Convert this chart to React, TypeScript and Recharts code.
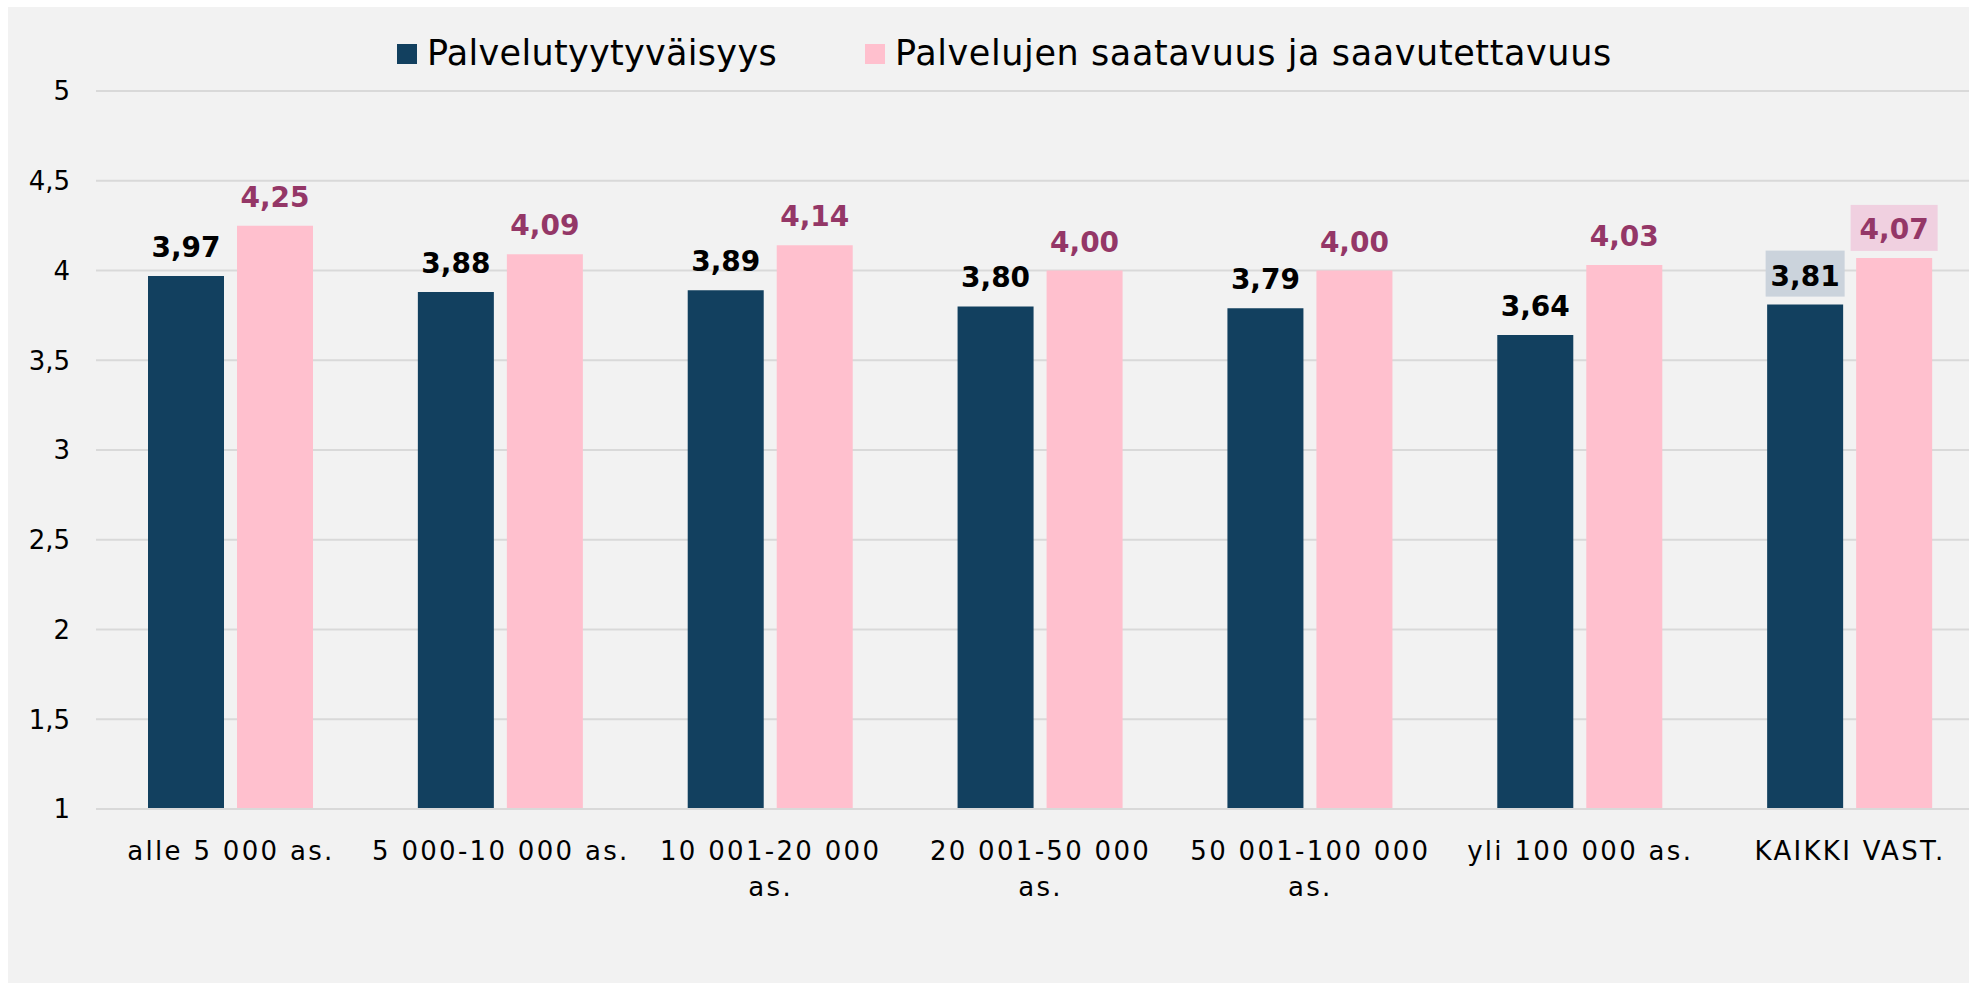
import React from "react";
import { BarChart, Bar, XAxis, YAxis, CartesianGrid, Legend, LabelList } from "recharts";

const categories = [
  "alle 5 000 as.",
  "5 000-10 000 as.",
  "10 001-20 000 as.",
  "20 001-50 000 as.",
  "50 001-100 000 as.",
  "yli 100 000 as.",
  "KAIKKI VAST.",
];
const satisfaction = [3.97, 3.88, 3.89, 3.8, 3.79, 3.64, 3.81];
const availability = [4.25, 4.09, 4.14, 4.0, 4.0, 4.03, 4.07];
const yTicks = [1, 1.5, 2, 2.5, 3, 3.5, 4, 4.5, 5];
const seriesNames = ["Palvelutyytyväisyys", "Palvelujen saatavuus ja saavutettavuus"];

const data = categories.map((c, i) => ({ name: c, s: satisfaction[i], a: availability[i] }));

const FONT = "'DejaVu Sans', 'Noto Sans', sans-serif";
const DARK = "#12405F";
const PINK = "#FFC0CE";
const PINK_TEXT = "#943767";
const GRID = "#D9D9D9";

const fmt = (v: number) => v.toFixed(2).replace(".", ",");

function wrapLabel(label: string): string[] {
  if (label.length > 16) {
    const k = label.lastIndexOf(" ");
    return [label.slice(0, k), label.slice(k + 1)];
  }
  return [label];
}

function XTick(props: any) {
  const { x, y, payload } = props;
  const lines = wrapLabel(String(payload.value));
  return (
    <text x={x} y={y} textAnchor="middle" fontFamily={FONT} fontSize={26} letterSpacing={2.3} fill="#000">
      {lines.map((l, i) => (
        <tspan key={i} x={x} dy={i === 0 ? 51 : 36}>
          {l}
        </tspan>
      ))}
    </text>
  );
}

function YTick(props: any) {
  const { x, y, payload } = props;
  return (
    <text x={x} y={y} dy="0.36em" textAnchor="end" fontFamily={FONT} fontSize={26} fill="#000">
      {String(payload.value).replace(".", ",")}
    </text>
  );
}

const makeLabel = (color: string, boxColor: string, boxW: number, boxTop: number) => (props: any) => {
  const vb = props.viewBox || {};
  const x = props.x ?? vb.x;
  const y = props.y ?? vb.y;
  const w = props.width ?? vb.width;
  const cx = x + w / 2;
  const isLast = props.index === categories.length - 1;
  return (
    <g>
      {isLast && <rect x={cx - boxW / 2} y={y - boxTop} width={boxW} height={46} fill={boxColor} />}
      <text x={cx} y={y - 19} textAnchor="middle" fontFamily={FONT} fontWeight="bold" fontSize={28} fill={color}>
        {fmt(Number(props.value))}
      </text>
    </g>
  );
};

const legendX = [
  [389, 419, 0.3],
  [857, 887, 0.6],
];

function LegendContent(props: any) {
  const payload = [...(props.payload || [])].sort(
    (a: any, b: any) => seriesNames.indexOf(a.value) - seriesNames.indexOf(b.value)
  );
  return (
    <svg width={1961} height={84} style={{ display: "block" }}>
      {payload.map((e: any, i: number) => (
        <g key={i}>
          <rect x={legendX[i][0]} y={37} width={20} height={20} fill={e.color} />
          <text x={legendX[i][1]} y={58} fontFamily={FONT} fontSize={35} letterSpacing={legendX[i][2]} fill="#000">
            {e.value}
          </text>
        </g>
      ))}
    </svg>
  );
}

export default function App() {
  return (
    <div
      style={{
        position: "absolute",
        left: 8,
        top: 7,
        width: 1961,
        height: 976,
        overflow: "hidden",
        background: "#F2F2F2",
      }}
    >
      <BarChart
        width={1977}
        height={976}
        data={data}
        margin={{ top: 84, right: 0, bottom: 0, left: 0 }}
        barSize={76}
        barGap={13}
      >
        <CartesianGrid vertical={false} stroke={GRID} strokeWidth={2} />
        <XAxis
          dataKey="name"
          height={174}
          tickLine={false}
          tickSize={0}
          tickMargin={0}
          axisLine={{ stroke: GRID, strokeWidth: 2 }}
          tick={<XTick />}
          interval={0}
        />
        <YAxis
          width={88}
          domain={[1, 5]}
          ticks={yTicks}
          axisLine={false}
          tickLine={false}
          tickSize={0}
          tickMargin={26}
          tick={<YTick />}
          interval={0}
        />
        <Legend
          verticalAlign="middle"
          align="center"
          layout="horizontal"
          wrapperStyle={{ top: 0, left: 0, width: 1961, height: 84 }}
          content={(p: any) => <LegendContent payload={p.payload} />}
        />
        <Bar dataKey="s" name={seriesNames[0]} fill={DARK} isAnimationActive={false}>
          <LabelList dataKey="s" content={makeLabel("#000", "#CBD3DC", 79, 54)} />
        </Bar>
        <Bar dataKey="a" name={seriesNames[1]} fill={PINK} isAnimationActive={false}>
          <LabelList dataKey="a" content={makeLabel(PINK_TEXT, "#F0D0E0", 87, 53)} />
        </Bar>
      </BarChart>
    </div>
  );
}
